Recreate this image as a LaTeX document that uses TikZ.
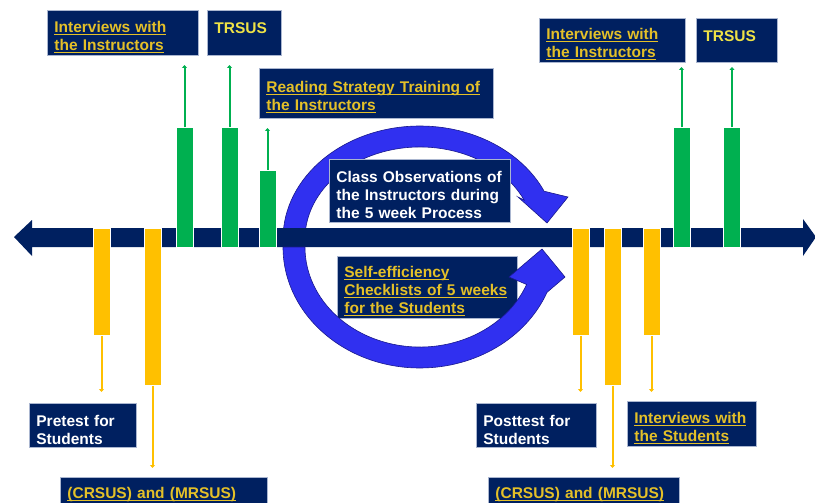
\documentclass[tikz,border=0pt]{standalone}
\usepackage{fontspec}
\setmainfont{Liberation Sans}
\usepackage{tikz}
\usetikzlibrary{arrows.meta, positioning}
\definecolor{navy}{RGB}{0, 32, 96}
\definecolor{boxedge}{RGB}{170, 182, 208}
\definecolor{gold}{RGB}{228, 192, 40}
\definecolor{trsusyellow}{RGB}{238, 226, 70}
\definecolor{baryellow}{RGB}{255, 192, 0}
\definecolor{bargreen}{RGB}{0, 176, 80}
\definecolor{ringblue}{RGB}{48, 48, 240}
\definecolor{ringedge}{RGB}{25, 25, 140}
\newcommand{\undl}[1]{\leavevmode\setbox0\hbox{#1}\rlap{\rule[-2.4pt]{\wd0}{1.1pt}}\box0}

\begin{document}
\begin{tikzpicture}[x=1pt, y=-1pt, >={Triangle[width=5pt, length=3pt]},
  info/.style={fill=navy, draw=boxedge, line width=0.8pt, anchor=north west, align=left,
    inner xsep=7pt, inner ysep=1pt, font=\fontsize{15.5}{18}\selectfont\bfseries,
    execute at begin node={\leavevmode\rule{0pt}{19.5pt}}},
  link/.style={info, text=gold},
  plain/.style={info, text=white},
  gbar/.style={fill=bargreen, draw=white, line width=0.5pt, minimum width=17pt, inner sep=0pt, anchor=south},
  ybar/.style={fill=baryellow, draw=white, line width=0.5pt, minimum width=17pt, inner sep=0pt, anchor=north},
  gstem/.style={->, draw=bargreen, line width=2pt},
  ystem/.style={->, draw=baryellow, line width=2pt},
  ring/.style={fill=ringblue, draw=ringedge, line width=0.6pt}]
  \useasboundingbox (0,0) rectangle (815,503);

  % upper circular arrow
  \filldraw[ring] (283,239) arc[start angle=180, end angle=335, x radius=137, y radius=113]
    -- (568,197) -- (547,223) -- (518,197) -- (524.2,200.1)
    arc[start angle=335, end angle=180, x radius=115, y radius=92] -- cycle;

  % time line
  \fill[navy] (14,237) -- (32,220) -- (32,228) -- (803,228) -- (803,219) -- (816,237)
    -- (803,256) -- (803,247) -- (32,247) -- (32,256) -- cycle;

  % bars over the time line
  \node[gbar, minimum height=119pt] (g1) at (184.5,247) {};
  \node[gbar, minimum height=119pt] (g2) at (229.5,247) {};
  \node[gbar, minimum height=77pt] (g3) at (267.5,247) {};
  \node[gbar, minimum height=119pt] (g4) at (681.5,247) {};
  \node[gbar, minimum height=119pt] (g5) at (732,247) {};
  \node[ybar, minimum height=107pt] (y1) at (101.5,228) {};
  \node[ybar, minimum height=157pt] (y2) at (152.5,228) {};
  \node[ybar, minimum height=107pt] (y3) at (580.5,228) {};
  \node[ybar, minimum height=157pt] (y4) at (612.5,228) {};
  \node[ybar, minimum height=107pt] (y5) at (651.5,228) {};

  \foreach \n/\e in {g1/65, g2/65, g3/128, g4/67, g5/67} {
    \coordinate (\n end) at (\n.north |- 0,\e);
    \draw[gstem] (\n.north) -- (\n end);
  }
  \foreach \n/\e in {y1/392, y2/468, y3/392, y4/468, y5/392} {
    \coordinate (\n end) at (\n.south |- 0,\e);
    \draw[ystem] (\n.south) -- (\n end);
  }

  % boxes above
  \node[link, text width=137pt, minimum height=45pt] (instrA) at (47,10)
    {\undl{Interviews with}\\\undl{the Instructors}};
  \node[info, text=trsusyellow, text width=60pt, minimum height=45pt] (trsusA) at (207,10)
    {TRSUS\\\mbox{}};
  \node[link, text width=220pt, minimum height=50pt] (training) at (259,68)
    {\undl{Reading Strategy Training of}\\\undl{the Instructors}};
  \node[plain, text width=167pt, minimum height=63pt] (observe) at (329,159)
    {Class Observations of\\the Instructors during\\the 5 week Process};
  \node[link, text width=132pt, minimum height=44pt] (instrB) at (539,18)
    {\undl{Interviews with}\\\undl{the Instructors}};
  \node[info, text=trsusyellow, text width=67pt, minimum height=44pt] (trsusB) at (696,18)
    {TRSUS\\\mbox{}};

  % boxes below
  \node[link, text width=166pt, minimum height=62pt] (checklist) at (337,256)
    {\undl{Self-efficiency}\\\undl{Checklists of 5 weeks}\\\undl{for the Students}};
  \node[plain, text width=93pt, minimum height=44pt] (pretest) at (29,403)
    {Pretest for\\Students};
  \node[link, text width=193pt, minimum height=26pt] (crsusA) at (60,477)
    {\undl{(CRSUS) and (MRSUS)}};
  \node[plain, text width=106pt, minimum height=44pt] (posttest) at (476,403)
    {Posttest for\\Students};
  \node[link, text width=115pt, minimum height=45pt] (studs) at (627,401)
    {\undl{Interviews with}\\\undl{the Students}};
  \node[link, text width=177pt, minimum height=26pt] (crsusB) at (488,477)
    {\undl{(CRSUS) and (MRSUS)}};

  % lower circular arrow
  \filldraw[ring] (283,247) arc[start angle=180, end angle=22, x radius=137, y radius=121]
    -- (565,277) -- (542,249) -- (509,277) -- (526.6,284.5)
    arc[start angle=22, end angle=180, x radius=115, y radius=100] -- cycle;
\end{tikzpicture}
\end{document}
